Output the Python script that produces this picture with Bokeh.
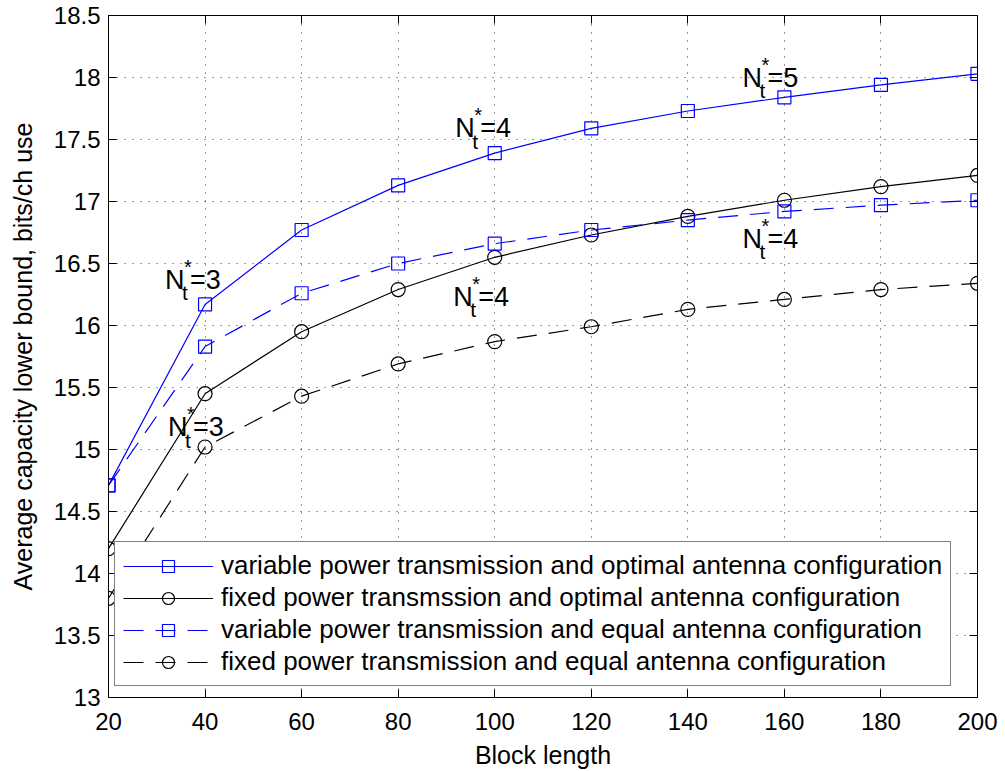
from bokeh.plotting import figure
from bokeh.models import Range1d, FixedTicker, LinearAxis, ColumnDataSource, Legend
from bokeh.core.properties import value
from bokeh.embed import file_html
from bokeh.resources import INLINE

block_length = [20, 40, 60, 80, 100, 120, 140, 160, 180, 200]
var_opt = [14.71, 16.17, 16.77, 17.13, 17.39, 17.59, 17.73, 17.84, 17.94, 18.03]
fix_opt = [14.20, 15.45, 15.95, 16.29, 16.55, 16.73, 16.88, 17.01, 17.12, 17.21]
var_eq = [14.71, 15.83, 16.26, 16.50, 16.66, 16.77, 16.85, 16.92, 16.97, 17.01]
fix_eq = [13.80, 15.02, 15.43, 15.69, 15.87, 15.99, 16.13, 16.21, 16.29, 16.34]

labels = [
    "variable power transmission and optimal antenna configuration",
    "fixed power transmssion and optimal antenna configuration",
    "variable power transmission and equal antenna configuration",
    "fixed power transmission and equal antenna configuration",
]

x_ticks = [20, 40, 60, 80, 100, 120, 140, 160, 180, 200]
x_tick_labels = ["20", "40", "60", "80", "100", "120", "140", "160", "180", "200"]
y_ticks = [13, 13.5, 14, 14.5, 15, 15.5, 16, 16.5, 17, 17.5, 18, 18.5]
y_tick_labels = ["13", "13.5", "14", "14.5", "15", "15.5", "16", "16.5", "17", "17.5", "18", "18.5"]

# annotation anchors (data units) and the number after "="
ann_x = [31.7, 32.3, 91.8, 91.4, 151.3, 151.3]
ann_y = [16.37, 15.18, 17.59, 16.23, 18.00, 16.70]
ann_n = ["3", "3", "4", "4", "5", "4"]

FONT = "Liberation Sans"
BLUE = "#0000FF"

p = figure(width=1005, height=771, output_backend="svg", toolbar_location=None,
           x_range=Range1d(20, 200), y_range=Range1d(13, 18.5),
           min_border_left=108, min_border_right=28, min_border_top=15, min_border_bottom=74)
p.background_fill_color = "white"
p.border_fill_color = "white"
p.outline_line_color = "black"
p.outline_line_width = 1

for ax in (p.xaxis[0], p.yaxis[0]):
    ax.major_label_text_font = FONT
    ax.major_label_text_font_size = "24px"
    ax.major_label_text_color = "black"
    ax.axis_label_text_font = FONT
    ax.axis_label_text_font_size = "25px"
    ax.axis_label_text_font_style = "normal"
    ax.axis_label_text_color = "black"
    ax.major_tick_in = 8
    ax.major_tick_out = 0
    ax.minor_tick_line_color = None
    ax.axis_line_color = "black"
    ax.major_tick_line_color = "black"

p.xaxis[0].ticker = FixedTicker(ticks=x_ticks)
p.xaxis[0].major_label_overrides = dict(zip(x_ticks, x_tick_labels))
p.yaxis[0].ticker = FixedTicker(ticks=y_ticks)
p.yaxis[0].major_label_overrides = dict(zip(y_ticks, y_tick_labels))
p.xaxis[0].axis_label = "Block length"
p.yaxis[0].axis_label = "Average capacity lower bound, bits/ch use"
p.xaxis[0].major_label_standoff = 15
p.yaxis[0].major_label_standoff = 8
p.xaxis[0].axis_label_standoff = 8
p.yaxis[0].axis_label_standoff = 14

for loc, tk in (("above", x_ticks), ("right", y_ticks)):
    a = LinearAxis(ticker=FixedTicker(ticks=tk), major_label_overrides={t: "" for t in tk},
                   major_tick_in=8, major_tick_out=0, minor_tick_line_color=None,
                   major_label_standoff=0, axis_line_color="black", major_tick_line_color="black")
    p.add_layout(a, loc)

p.xgrid.ticker = FixedTicker(ticks=x_ticks)
p.ygrid.ticker = FixedTicker(ticks=y_ticks)
for g in (p.xgrid[0], p.ygrid[0]):
    g.grid_line_color = "black"
    g.grid_line_dash = "1 7"
    g.grid_line_width = 1
    g.grid_line_alpha = 0.8

series = [
    (var_opt, BLUE, "solid", "square", 13, labels[0]),
    (fix_opt, "black", "solid", "circle", 14, labels[1]),
    (var_eq, BLUE, "20 12", "square", 13, labels[2]),
    (fix_eq, "black", "20 12", "circle", 14, labels[3]),
]
legend_items = []
for ys, col, dash, mk, sz, lab in series:
    r1 = p.line(block_length, ys, line_color=col, line_width=1.2, line_dash=dash)
    r2 = p.scatter(block_length, ys, marker=mk, size=sz, line_color=col, line_width=1.2,
                   fill_alpha=0)
    legend_items.append((lab, [r1, r2]))

legend = Legend(items=legend_items, location=(6, 11))
legend.label_text_font = FONT
legend.label_text_font_size = "26px"
legend.label_text_color = "black"
legend.border_line_color = "black"
legend.border_line_width = 1.2
legend.background_fill_color = "white"
legend.background_fill_alpha = 1
legend.padding = 8
legend.margin = 0
legend.spacing = 1
legend.label_height = 30
legend.glyph_height = 30
legend.glyph_width = 90
legend.label_standoff = 8
p.add_layout(legend, "center")

src = ColumnDataSource(dict(x=ann_x, y=ann_y, n=["N"] * len(ann_x),
                            star=["*"] * len(ann_x), t=["t"] * len(ann_x),
                            eq=["=" + v for v in ann_n]))
common = dict(source=src, text_font=value(FONT), text_color="black", text_baseline="alphabetic")
p.text(x="x", y="y", text="n", text_font_size="27px", **common)
p.text(x="x", y="y", text="star", text_font_size="20px", x_offset=19, y_offset=-13, **common)
p.text(x="x", y="y", text="t", text_font_size="21px", x_offset=17, y_offset=13, **common)
p.text(x="x", y="y", text="eq", text_font_size="27px", x_offset=25, **common)

open("out.html", "w").write(file_html(p, INLINE))
